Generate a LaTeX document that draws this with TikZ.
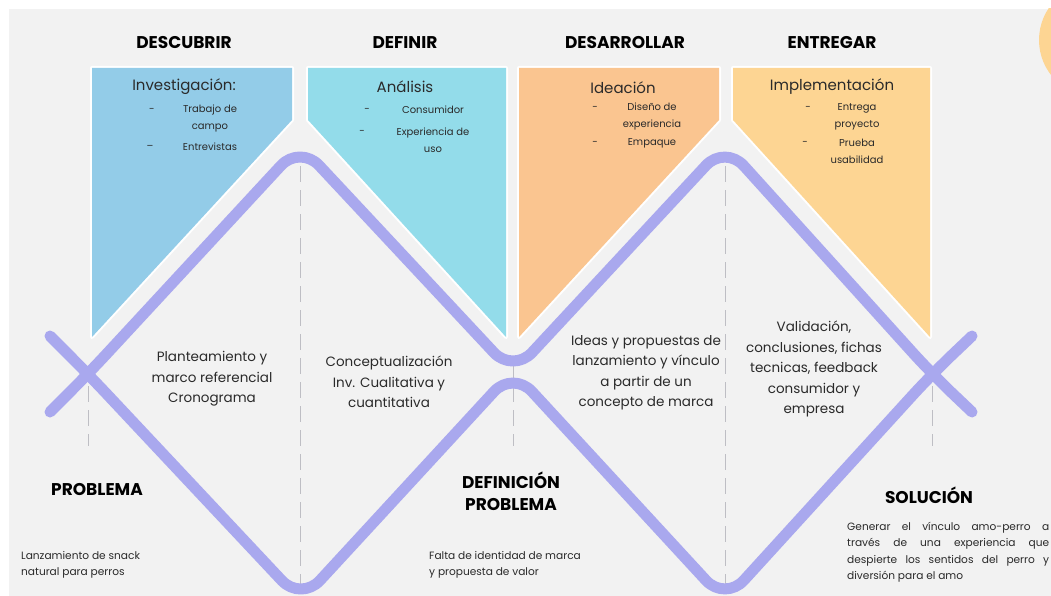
\documentclass[tikz,border=0pt]{standalone}
\usepackage{fontspec}
\setmainfont{Poppins}
\definecolor{bg}{HTML}{F2F2F2}
\definecolor{pblue}{HTML}{93CCE8}
\definecolor{pcyan}{HTML}{93DCEA}
\definecolor{porange}{HTML}{FAC590}
\definecolor{pyellow}{HTML}{FDD593}
\definecolor{wave}{HTML}{A9A8EE}
\definecolor{guidegray}{HTML}{BEBEC4}
\definecolor{ink}{HTML}{2A2A2A}
\begin{document}
\begin{tikzpicture}[x=1pt,y=-1pt,
  head/.style={font=\bfseries\fontsize{17}{19}\selectfont, text=black, inner sep=0},
  ptitle/.style={font=\fontsize{15}{17}\selectfont, text=ink, inner sep=0},
  item/.style={font=\fontsize{10}{17}\selectfont, text=ink, align=center, inner sep=0},
  bullet/.style={font=\fontsize{10}{12}\selectfont, text=ink, inner sep=0},
  mtext/.style={font=\fontsize{13.5}{20.5}\selectfont, text=ink, align=center, inner sep=0},
  label/.style={font=\bfseries\fontsize{17}{22}\selectfont, text=black, align=center, inner sep=0},
  note/.style={font=\fontsize{10.6}{16.5}\selectfont, text=ink, align=left, inner sep=0},
  panel/.style={draw=white, line width=4pt, line join=round},
  guide/.style={draw=guidegray, line width=0.9pt, dash pattern=on 16pt off 8pt},
  wavepath/.style={draw=wave, line width=11pt, line cap=round, line join=round, rounded corners=28pt}]
\useasboundingbox (0,0) rectangle (1051,596);
\clip (0,0) rectangle (1051,596);
% page and backdrop
\fill[white] (0,0) rectangle (1051,596);
\fill[bg] (9,9) rectangle (1051,596);
\begin{scope}
  \clip (9,9) rectangle (1051,596);
  \fill[pyellow] (1096,40) circle (57);
\end{scope}

% phase panels
\path[panel] (92,68) -- (292,68) -- (292,120) -- (92,337) -- cycle;
\fill[pblue] (92,68) -- (292,68) -- (292,120) -- (92,337) -- cycle;
\path[panel] (308,68) -- (506,68) -- (506,337) -- (308,120) -- cycle;
\fill[pcyan] (308,68) -- (506,68) -- (506,337) -- (308,120) -- cycle;
\path[panel] (519,68) -- (719,68) -- (719,120) -- (519,337) -- cycle;
\fill[porange] (519,68) -- (719,68) -- (719,120) -- (519,337) -- cycle;
\path[panel] (733,68) -- (930,68) -- (930,337) -- (733,120) -- cycle;
\fill[pyellow] (733,68) -- (930,68) -- (930,337) -- (733,120) -- cycle;

% vertices of the double diamond
\coordinate (lA) at (50,336);
\coordinate (uA) at (50,412);
\coordinate (x1) at (88,374);
\coordinate (pk1) at (300,145);
\coordinate (v1) at (301,601);
\coordinate (mu) at (513,373);
\coordinate (ml) at (513,371);
\coordinate (pk2) at (725,145);
\coordinate (v2) at (725,601);
\coordinate (x2) at (932,374);
\coordinate (lB) at (972,336);
\coordinate (uB) at (972,412);

% dashed phase guides
\draw[guide] (88,386) -- (88,446);
\draw[guide] (300,166) -- (300,588);
\draw[guide] (513,362) -- (513,446);
\draw[guide] (725,166) -- (725,588);
\draw[guide] (932,386) -- (932,446);

% the two diverging/converging strokes
\draw[wavepath] (uA) -- (x1) -- (pk1) -- (mu) -- (pk2) -- (x2) -- (uB);
\draw[wavepath] (lA) -- (x1) -- (v1) -- (ml) -- (v2) -- (x2) -- (lB);

% phase headings
\node[head] (h1) at (184,43) {DESCUBRIR};
\node[head] (h2) at (405,43) {DEFINIR};
\node[head] (h3) at (625,43) {DESARROLLAR};
\node[head] (h4) at (832,43) {ENTREGAR};

% panel contents
\node[ptitle] (t1) at (184,87) {Investigación:};
\node[bullet] (b11) at (152,110) {-};
\node[item] (i11) at (210,118.5) {Trabajo de\\campo};
\node[bullet] (b12) at (150,147) {--};
\node[item] (i12) at (210,147) {Entrevistas};

\node[ptitle] (t2) at (405,87) {Análisis};
\node[bullet] (b21) at (367,110) {-};
\node[item] (i21) at (433,110) {Consumidor};
\node[bullet] (b22) at (362,132) {-};
\node[item] (i22) at (433,140.5) {Experiencia de\\uso};

\node[ptitle] (t3) at (623,88) {Ideación};
\node[bullet] (b31) at (595,108) {-};
\node[item] (i31) at (652,116.5) {Diseño de\\experiencia};
\node[bullet] (b32) at (595,143) {-};
\node[item] (i32) at (652,143) {Empaque};

\node[ptitle] (t4) at (832,87) {Implementación};
\node[bullet] (b41) at (808,108) {-};
\node[item] (i41) at (857,116.5) {Entrega\\proyecto};
\node[bullet] (b42) at (805,143) {-};
\node[item] (i42) at (857,151.5) {Prueba\\usabilidad};

% phase outcomes between the strokes
\node[mtext] (m1) at (212,379) {Planteamiento y\\marco referencial\\Cronograma};
\node[mtext] (m2) at (389,382) {Conceptualización\\Inv. Cualitativa y\\cuantitativa};
\node[mtext] (m3) at (646,373) {Ideas y propuestas de\\lanzamiento y vínculo\\a partir de un\\concepto de marca};
\node[mtext] (m4) at (814,369) {Validación,\\conclusiones, fichas\\tecnicas, feedback\\consumidor y\\empresa};

% milestones
\node[label] (s1) at (97,490) {PROBLEMA};
\node[label] (s2) at (511,491) {DEFINICIÓN\\PROBLEMA};
\node[label] (s3) at (929,495) {SOLUCIÓN};

\node[note, anchor=west] (n1) at (21,565) {Lanzamiento de snack\\natural para perros};
\node[note, anchor=west] (n2) at (429,565) {Falta de identidad de marca\\y propuesta de valor};
\node[note, anchor=west, text width=202pt, align=justify] (n3) at (847,552)
  {Generar el vínculo amo-perro a\linebreak través de una experiencia que\linebreak despierte los sentidos del perro y\linebreak diversión para el amo};
\end{tikzpicture}
\end{document}
